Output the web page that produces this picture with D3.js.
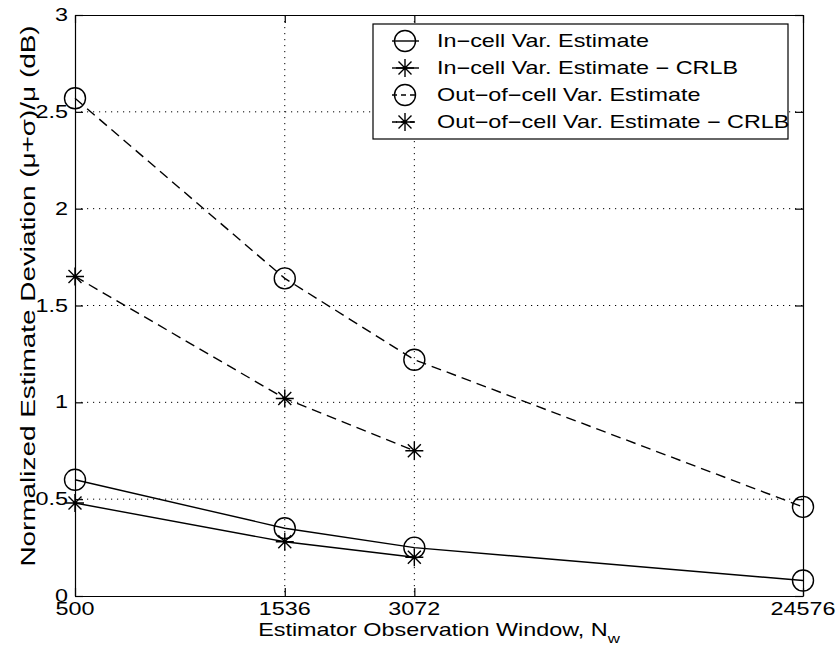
<!DOCTYPE html>
<html lang="en">
<head>
<meta charset="utf-8" />
<script src="https://d3js.org/d3.v7.min.js"></script>
<style>
  body { margin: 0; background: #fff; }
  text { font-family: "Liberation Sans", Arial, Helvetica, sans-serif; fill: #000; }
</style>
</head>
<body>
<script>
// data
var windows = [500, 1536, 3072, 24576];
var xTickLabels = ["500", "1536", "3072", "24576"];
var yTicks = [0, 0.5, 1, 1.5, 2, 2.5, 3];
var yTickLabels = ["0", "0.5", "1", "1.5", "2", "2.5", "3"];

var inCellEst = [0.60, 0.35, 0.25, 0.08];
var inCellCrlb = [0.48, 0.28, 0.20];
var outCellEst = [2.57, 1.64, 1.22, 0.46];
var outCellCrlb = [1.65, 1.02, 0.75];

var seriesNames = [
  "In\u2212cell Var. Estimate",
  "In\u2212cell Var. Estimate \u2212 CRLB",
  "Out\u2212of\u2212cell Var. Estimate",
  "Out\u2212of\u2212cell Var. Estimate \u2212 CRLB"
];

var W = 838, H = 651;
var pLeft = 75, pRight = 803, pTop = 15, pBottom = 596;
var fs = 18, sx = 1.3;   // scanned type is wider than it is tall

var svg = d3.select("body").append("svg")
  .attr("width", W).attr("height", H);

var x = d3.scaleLog().domain([500, 24576]).range([pLeft, pRight]);
var y = d3.scaleLinear().domain([0, 3]).range([pBottom, pTop]);

// stretched text helper
function label(g, str, tx, ty, anchor, rot, size, stretch) {
  return g.append("text")
    .attr("transform", "translate(" + tx + "," + ty + ")" + (rot ? " rotate(" + rot + ")" : "") +
      " scale(" + (stretch || sx) + ",1)")
    .attr("text-anchor", anchor)
    .style("font-size", (size || fs) + "px")
    .text(str);
}

// grid
var grid = svg.append("g")
  .attr("stroke", "#000").attr("stroke-width", 1)
  .attr("stroke-dasharray", "1.2,4.8");
grid.selectAll(".gx").data(windows.slice(1, -1)).enter().append("line")
  .attr("x1", function(d) { return x(d); }).attr("x2", function(d) { return x(d); })
  .attr("y1", pTop).attr("y2", pBottom);
grid.selectAll(".gy").data(yTicks.slice(1, -1)).enter().append("line")
  .attr("x1", pLeft).attr("x2", pRight)
  .attr("y1", function(d) { return y(d); }).attr("y2", function(d) { return y(d); });

// axes with inward ticks on all sides
svg.append("g").attr("transform", "translate(0," + pBottom + ")")
  .call(d3.axisBottom(x).tickValues(windows).tickSizeInner(-8).tickSizeOuter(0).tickFormat(""));
svg.append("g").attr("transform", "translate(0," + pTop + ")")
  .call(d3.axisTop(x).tickValues(windows).tickSizeInner(-8).tickSizeOuter(0).tickFormat(""));
svg.append("g").attr("transform", "translate(" + pLeft + ",0)")
  .call(d3.axisLeft(y).tickValues(yTicks).tickSizeInner(-8).tickSizeOuter(0).tickFormat(""));
svg.append("g").attr("transform", "translate(" + pRight + ",0)")
  .call(d3.axisRight(y).tickValues(yTicks).tickSizeInner(-8).tickSizeOuter(0).tickFormat(""));
svg.selectAll(".domain, .tick line").attr("stroke", "#000").attr("stroke-width", 1.2);

// tick labels
var tl = svg.append("g");
windows.forEach(function(d, i) {
  label(tl, xTickLabels[i], x(d), pBottom + 19, "middle");
});
yTicks.forEach(function(d, i) {
  label(tl, yTickLabels[i], pLeft - 7, y(d) + 6, "end");
});

// axis titles
var xt = label(svg, "Estimator Observation Window, N", (pLeft + pRight) / 2, 636, "middle");
xt.append("tspan").attr("dy", 7).style("font-size", "13px").text("w");
label(svg, "Normalized Estimate Deviation (\u03bc+\u03c3)/\u03bc (dB)", 35, 296, "middle", -90, 19.5, 1.43);

// markers
function circleMark(g, cx, cy) {
  g.append("circle").attr("cx", cx).attr("cy", cy).attr("r", 10.5)
    .attr("fill", "none").attr("stroke", "#000").attr("stroke-width", 1.4);
}
function starMark(g, cx, cy) {
  var s = 9, d = 6.5;
  var p = "M" + (cx - s) + "," + cy + "h" + (2 * s) +
          "M" + cx + "," + (cy - s) + "v" + (2 * s) +
          "M" + (cx - d) + "," + (cy - d) + "l" + (2 * d) + "," + (2 * d) +
          "M" + (cx - d) + "," + (cy + d) + "l" + (2 * d) + "," + (-2 * d);
  g.append("path").attr("d", p).attr("fill", "none")
    .attr("stroke", "#000").attr("stroke-width", 1.4);
}

var series = [
  { vals: inCellEst, dash: null, mark: circleMark },
  { vals: inCellCrlb, dash: null, mark: starMark },
  { vals: outCellEst, dash: "10,6", mark: circleMark },
  { vals: outCellCrlb, dash: "10,6", mark: starMark }
];

var line = d3.line()
  .x(function(d, i) { return x(windows[i]); })
  .y(function(d) { return y(d); });

var plot = svg.append("g");
series.forEach(function(s) {
  plot.append("path").datum(s.vals)
    .attr("d", line)
    .attr("fill", "none").attr("stroke", "#000").attr("stroke-width", 1.4)
    .attr("stroke-dasharray", s.dash);
  s.vals.forEach(function(v, i) { s.mark(plot, x(windows[i]), y(v)); });
});

// legend
var lg = svg.append("g");
var lx = 373, ly = 24, lw = 415, lh = 115, rowH = 27;
lg.append("rect").attr("x", lx).attr("y", ly).attr("width", lw).attr("height", lh)
  .attr("fill", "#fff").attr("stroke", "#000").attr("stroke-width", 1.2);
series.forEach(function(s, i) {
  var cy = ly + 17 + i * rowH;
  lg.append("line").attr("x1", lx + 19).attr("x2", lx + 46)
    .attr("y1", cy).attr("y2", cy)
    .attr("stroke", "#000").attr("stroke-width", 1.4)
    .attr("stroke-dasharray", s.dash ? "5,4" : null);
  s.mark(lg, lx + 32, cy);
  label(lg, seriesNames[i], lx + 64, cy + 6, "start");
});
</script>
</body>
</html>
